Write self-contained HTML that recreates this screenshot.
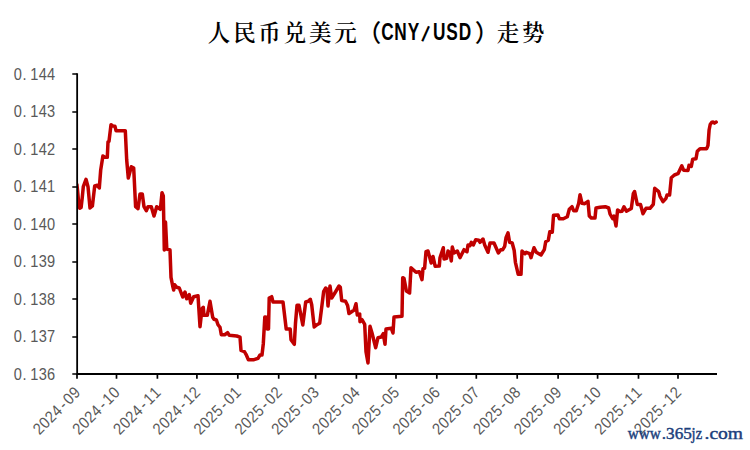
<!DOCTYPE html>
<html lang="zh-CN">
<head>
<meta charset="utf-8">
<title>人民币兑美元（CNY/USD）走势</title>
<style>
html,body{margin:0;padding:0;background:#fff;}
body{width:750px;height:450px;overflow:hidden;position:relative;}
svg{display:block;position:absolute;left:0;top:0;}
.tl{font-family:"Liberation Sans","Noto Sans CJK SC",sans-serif;font-size:16.2px;fill:#595959;text-anchor:middle;}
.tc{font-family:"Liberation Serif","Noto Serif CJK SC",serif;font-weight:600;font-size:22.5px;fill:#000;text-anchor:middle;}
.te{font-family:"Liberation Sans","Noto Sans CJK SC",sans-serif;font-weight:bold;font-size:23px;fill:#000;text-anchor:middle;}
.wm{font-family:"Liberation Serif","DejaVu Serif",serif;font-size:17px;fill:#1c3f7c;stroke:#1c3f7c;stroke-width:0.45px;}
.tp{font-family:"Liberation Sans","Noto Sans CJK SC",sans-serif;font-weight:500;font-size:24px;fill:#000;text-anchor:middle;}
</style>
</head>
<body>
<svg width="750" height="450" viewBox="0 0 750 450">
<rect x="0" y="0" width="750" height="450" fill="#ffffff"/>
<text class="tc" y="41.0" x="219.1 244.4 269.6 294.9 320.2 345.6">人民币兑美元</text>
<text class="tp" y="40.5" x="369.2">（</text>
<text class="te" transform="translate(0,40.2) scale(0.75,1)" y="0" rotate="0 0 0 20 0 0 0" x="516.79 533.99 551.20 564.93 585.60 602.81 620.01">CNY/USD</text>
<text class="tp" y="40.5" x="486.7">）</text>
<text class="tc" y="41.0" x="508.0 533.3">走势</text>
<text class="tl" transform="translate(0,79.7) scale(0.90,1)" y="0" x="19.68 27.20 38.19 47.45 56.71">0.144</text>
<text class="tl" transform="translate(0,117.2) scale(0.90,1)" y="0" x="19.68 27.20 38.19 47.45 56.71">0.143</text>
<text class="tl" transform="translate(0,154.7) scale(0.90,1)" y="0" x="19.68 27.20 38.19 47.45 56.71">0.142</text>
<text class="tl" transform="translate(0,192.2) scale(0.90,1)" y="0" x="19.68 27.20 38.19 47.45 56.71">0.141</text>
<text class="tl" transform="translate(0,229.7) scale(0.90,1)" y="0" x="19.68 27.20 38.19 47.45 56.71">0.140</text>
<text class="tl" transform="translate(0,267.2) scale(0.90,1)" y="0" x="19.68 27.20 38.19 47.45 56.71">0.139</text>
<text class="tl" transform="translate(0,304.7) scale(0.90,1)" y="0" x="19.68 27.20 38.19 47.45 56.71">0.138</text>
<text class="tl" transform="translate(0,342.2) scale(0.90,1)" y="0" x="19.68 27.20 38.19 47.45 56.71">0.137</text>
<text class="tl" transform="translate(0,379.7) scale(0.90,1)" y="0" x="19.68 27.20 38.19 47.45 56.71">0.136</text>
<text class="tl" transform="translate(81.4,393.5) rotate(-45) scale(0.90,1)" y="0" x="-61.39 -51.94 -42.50 -33.06 -23.61 -14.17 -4.72">2024-09</text>
<text class="tl" transform="translate(120.9,393.5) rotate(-45) scale(0.90,1)" y="0" x="-61.39 -51.94 -42.50 -33.06 -23.61 -14.17 -4.72">2024-10</text>
<text class="tl" transform="translate(161.8,393.5) rotate(-45) scale(0.90,1)" y="0" x="-61.39 -51.94 -42.50 -33.06 -23.61 -14.17 -4.72">2024-11</text>
<text class="tl" transform="translate(201.3,393.5) rotate(-45) scale(0.90,1)" y="0" x="-61.39 -51.94 -42.50 -33.06 -23.61 -14.17 -4.72">2024-12</text>
<text class="tl" transform="translate(242.2,393.5) rotate(-45) scale(0.90,1)" y="0" x="-61.39 -51.94 -42.50 -33.06 -23.61 -14.17 -4.72">2025-01</text>
<text class="tl" transform="translate(283.1,393.5) rotate(-45) scale(0.90,1)" y="0" x="-61.39 -51.94 -42.50 -33.06 -23.61 -14.17 -4.72">2025-02</text>
<text class="tl" transform="translate(320.0,393.5) rotate(-45) scale(0.90,1)" y="0" x="-61.39 -51.94 -42.50 -33.06 -23.61 -14.17 -4.72">2025-03</text>
<text class="tl" transform="translate(360.8,393.5) rotate(-45) scale(0.90,1)" y="0" x="-61.39 -51.94 -42.50 -33.06 -23.61 -14.17 -4.72">2025-04</text>
<text class="tl" transform="translate(400.4,393.5) rotate(-45) scale(0.90,1)" y="0" x="-61.39 -51.94 -42.50 -33.06 -23.61 -14.17 -4.72">2025-05</text>
<text class="tl" transform="translate(441.2,393.5) rotate(-45) scale(0.90,1)" y="0" x="-61.39 -51.94 -42.50 -33.06 -23.61 -14.17 -4.72">2025-06</text>
<text class="tl" transform="translate(480.7,393.5) rotate(-45) scale(0.90,1)" y="0" x="-61.39 -51.94 -42.50 -33.06 -23.61 -14.17 -4.72">2025-07</text>
<text class="tl" transform="translate(521.6,393.5) rotate(-45) scale(0.90,1)" y="0" x="-61.39 -51.94 -42.50 -33.06 -23.61 -14.17 -4.72">2025-08</text>
<text class="tl" transform="translate(562.5,393.5) rotate(-45) scale(0.90,1)" y="0" x="-61.39 -51.94 -42.50 -33.06 -23.61 -14.17 -4.72">2025-09</text>
<text class="tl" transform="translate(602.0,393.5) rotate(-45) scale(0.90,1)" y="0" x="-61.39 -51.94 -42.50 -33.06 -23.61 -14.17 -4.72">2025-10</text>
<text class="tl" transform="translate(642.9,393.5) rotate(-45) scale(0.90,1)" y="0" x="-61.39 -51.94 -42.50 -33.06 -23.61 -14.17 -4.72">2025-11</text>
<text class="tl" transform="translate(682.4,393.5) rotate(-45) scale(0.90,1)" y="0" x="-61.39 -51.94 -42.50 -33.06 -23.61 -14.17 -4.72">2025-12</text>
<clipPath id="plotclip"><rect x="77" y="74" width="645" height="300"/></clipPath>
<polyline clip-path="url(#plotclip)" fill="none" stroke="#c00000" stroke-width="3.5" stroke-linejoin="round" stroke-linecap="round" points="76.9,184.5 77.7,192 78.6,202 79.7,208.3 81.1,207.5 82.2,198 83.3,186.7 86,179.3 88,186.7 90,208 92.4,206 94.7,186 97.3,185.3 99.3,188 100.7,170 102.9,156 104.9,157.3 107.3,157.3 108,142 109,141.3 111,124.7 112.7,126 115,126.3 116,130.7 125.3,130.7 126.7,160 128.3,178 131.3,166.7 133.7,168 135.6,206.7 138,208.7 140,194 142.3,194 144,206.7 146.3,210.7 148,206.7 151.3,206.7 154,216 156.7,206.7 158.7,208 160.4,209.3 162,192.7 163.3,196 164.3,250 165.5,222 166.8,249 170,250 171,277.3 172.7,286 173.7,290 174.7,284.7 176.7,287.3 179.3,288 182.7,297 185,292 186.7,298.7 189.3,294.7 190.7,303.3 193.7,296.7 198,295.7 200,326.7 202,308.7 203.3,307.3 204,315.3 207.3,315.3 210,301.3 212.7,317.3 214,319.3 216.4,320 218,324.7 220,327.3 221.3,334.7 224.7,334.7 227.6,332.7 229.3,335.3 236.7,336 240,337.2 241,350.3 244.4,351.7 246,354.3 248.4,359.7 254,359.7 258,358.3 260,355 262,355 263.3,343.7 264.8,317 266.5,317.3 267.2,329 268.5,329 269.2,298 271.7,296.7 273,302 283,302 286.2,329 290.2,329 291,339.7 294.3,344.3 295.5,323 297,305.3 299,305.3 302.8,325 305.7,302 308.3,301.3 310.3,299.3 311.7,304.7 314.2,327 317,324.7 319.7,323.3 322,305 323.7,291.3 325.7,288 327,289.3 328,306 330,286 331.7,298 335,292.7 339,286 340.3,287.3 341.7,300.5 345.5,301.2 347.6,305.5 349,313.6 352.7,311 354,310.3 356,303.7 357.3,315 359.7,314 360,321.7 362,319.7 364.7,324.3 366,351.7 368,363 370,326.3 372,333 375.7,347.7 378,337.7 381.3,337 383.3,333.7 385,344.3 386,329 391.3,328.3 393,333 394,317 402,316.3 402.7,277.7 404,278.3 406.4,291 409.6,293 411,267.7 416,272.3 419.3,271.7 422,279.7 423,268.6 424.6,268.3 426,251.7 428,251 431.2,263 433,256.5 435.2,266.3 439.3,266 440,257.7 443.3,247.7 444,259 446.7,258.3 448,251 450,253 451.3,261 452.3,247 454,253 457.3,251 460,257.7 464,249.7 467,251.7 468,245 470,245.7 471.3,242.3 473.3,245 475.7,239.7 478.7,240.3 480,242.3 483,239 484.7,245 488,252.3 490,243 494,243 498.4,253 500.7,249.7 502.7,249.7 504.7,246.3 506,237.7 508,232.8 509.6,242.3 512.2,243 514.2,250.5 515.4,262.3 518.2,274.3 521,274.3 522,251 525,253.7 526.3,252.3 529.7,253.7 531,257.7 534,247.7 536.3,252.3 541,255 544.3,249.7 545.7,241.7 548.3,240.3 549.8,231.8 552.3,232.2 553.5,215.3 558,215 559.3,218.7 563.3,218.7 567.3,216.7 569.3,209.3 572,206.7 573.6,210.7 576.3,210.7 578.7,203.3 580,194.7 582,203.3 584.7,203.7 588,201.3 589.3,216 591.3,218 595,218 596,208 600,207.3 605.3,206.7 608.7,208 610,214 612.7,218.7 614,216 616,226 617.6,210 620,211.5 622,211.3 624,206.8 626.4,211.2 631.3,208.5 633.3,193.7 634.6,191.5 637.3,204.5 640.5,204.5 643,213.7 646,208.3 650,208.3 653.3,204.3 654.7,188.3 658.7,191.7 660,196.3 663,201.7 666,198.3 667,195 669.6,195 671.3,177.7 674.4,175 678,173.7 681.8,165.8 683.6,170.2 688,170.5 689,165.2 691.3,166.5 692.7,159.2 696,158.8 697.3,151.3 700,148.7 706.7,148.7 708,145.3 709.1,130 710.2,124.5 711.8,122.2 713.2,122.1 714.5,123.1 716.2,122.1"/>
<path d="M72.3 74H77M72.3 112H77M72.3 149H77M72.3 187H77M72.3 224H77M72.3 262H77M72.3 299H77M72.3 337H77M72.3 374H77M77.0 374V378.7M116.5 374V378.7M157.4 374V378.7M196.9 374V378.7M237.8 374V378.7M278.7 374V378.7M315.6 374V378.7M356.4 374V378.7M396.0 374V378.7M436.8 374V378.7M476.3 374V378.7M517.2 374V378.7M558.1 374V378.7M597.6 374V378.7M638.5 374V378.7M678.0 374V378.7" stroke="#000" stroke-width="1.7" fill="none"/>
<path d="M77.15 73.2V374H717" stroke="#000" stroke-width="1.8" fill="none" stroke-linejoin="miter"/>
<text class="wm" y="439.3"><tspan x="627.8" textLength="33" lengthAdjust="spacingAndGlyphs">www</tspan><tspan x="661.8" textLength="30" lengthAdjust="spacingAndGlyphs">.365</tspan><tspan x="691.6" textLength="10.5" lengthAdjust="spacingAndGlyphs">jz</tspan><tspan x="704.5" textLength="38.5" lengthAdjust="spacingAndGlyphs">.com</tspan></text>
</svg>
</body>
</html>
